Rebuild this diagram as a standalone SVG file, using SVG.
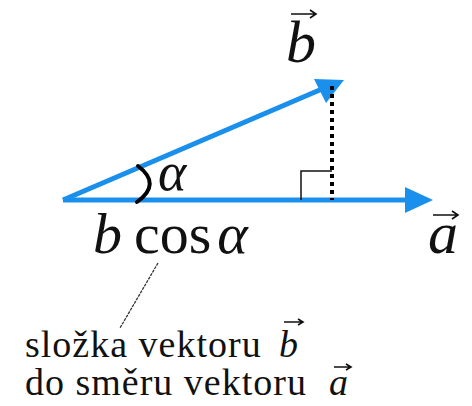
<svg xmlns="http://www.w3.org/2000/svg" width="472" height="406" viewBox="0 0 472 406">
<style>
.vec{stroke:#1a8fec;stroke-width:5;fill:none}
.head{fill:#1a8fec}
.sa{stroke:#111;stroke-width:1.6;fill:none}
</style>
<rect width="472" height="406" fill="#fff"/>
<g id="connectors">
<line class="vec" x1="63" y1="200" x2="408" y2="200"/>
<polygon class="head" points="433,200 405,187 405,213"/>
<line class="vec" x1="63" y1="200" x2="322" y2="89"/>
<polygon class="head" points="344,80 314,79 326,103"/>
<line x1="332" y1="86" x2="332" y2="200" stroke="#000" stroke-width="4" stroke-dasharray="4 4"/>
<path d="M301,200 V171 H332" stroke="#111" stroke-width="1.5" fill="none"/>
<path d="M138,166 Q162,184 137,202" stroke="#000" stroke-width="4" fill="none" stroke-linecap="round"/>
<line x1="158" y1="263" x2="120" y2="328" stroke="#333" stroke-width="1.3" stroke-dasharray="3 1"/>
</g>
<g id="label-b">
<text x="286" y="62" font-size="60" font-family="Liberation Serif" font-style="italic" fill="#111">b</text>
<path class="sa" d="M291,14 H315 M310,10 L316,14 L310,18"/>
</g>
<g id="label-a">
<text x="428" y="253" font-size="60" font-family="Liberation Serif" font-style="italic" fill="#111">a</text>
<path class="sa" d="M433,215 H457 M452,211 L458,215 L452,219"/>
</g>
<g id="label-alpha">
<text x="158" y="190" font-size="54" font-family="Liberation Serif" font-style="italic" fill="#111">α</text>
</g>
<g id="label-bcos">
<text x="93" y="253" font-size="58" font-family="Liberation Serif" fill="#111"><tspan font-style="italic">b</tspan><tspan dx="12">cos</tspan><tspan font-style="italic" dx="6">α</tspan></text>
</g>
<g id="caption">
<text x="25" y="357" font-size="38" letter-spacing="1" font-family="Liberation Serif" fill="#111">složka vektoru</text>
<text x="279" y="357" font-size="38" font-family="Liberation Serif" font-style="italic" fill="#111">b</text>
<path class="sa" d="M284,322 H302 M298,319 L303,322 L298,325"/>
<text x="25" y="395" font-size="38" letter-spacing="1" font-family="Liberation Serif" fill="#111">do směru vektoru</text>
<text x="329" y="395" font-size="38" font-family="Liberation Serif" font-style="italic" fill="#111">a</text>
<path class="sa" d="M334,367 H350 M346,364 L351,367 L346,370"/>
</g>
</svg>
